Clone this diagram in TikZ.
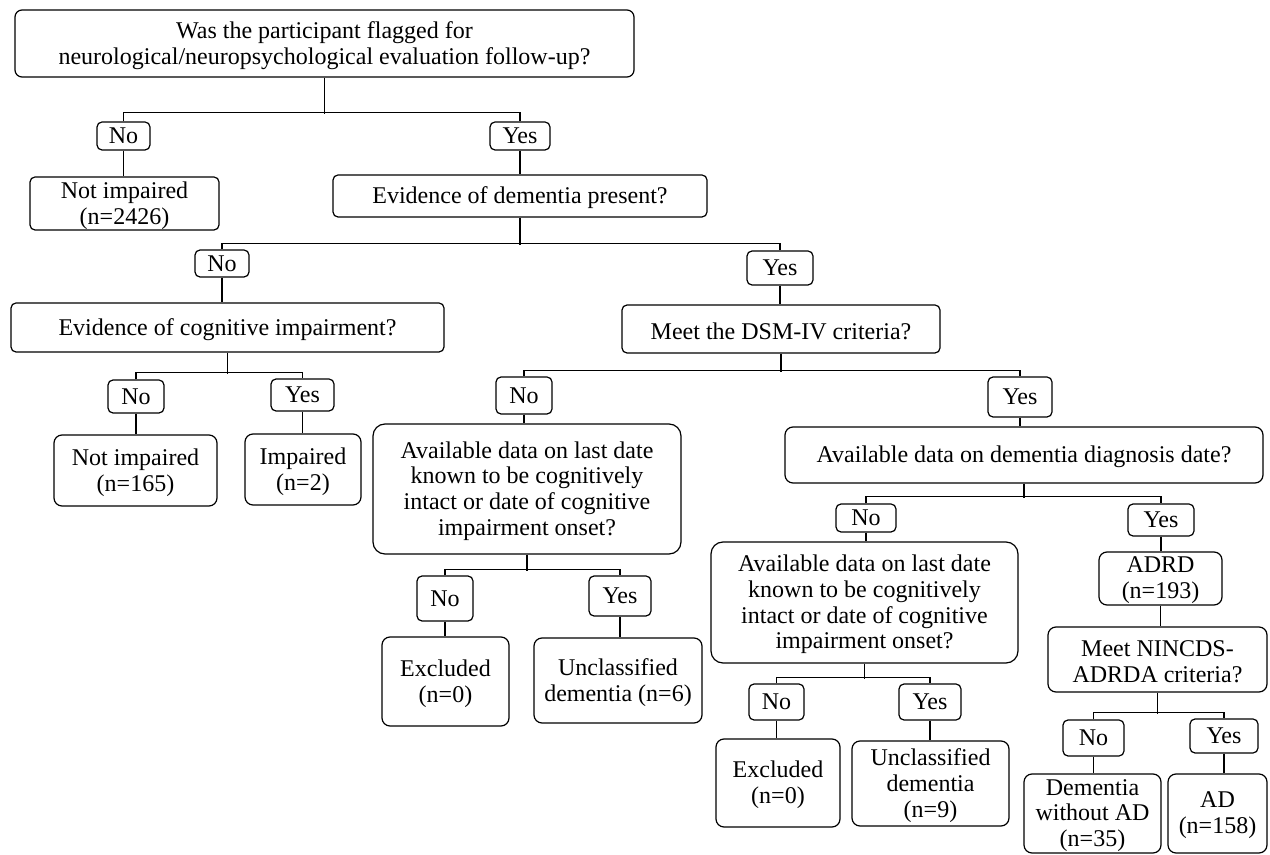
\documentclass[tikz,border=0pt]{standalone}
\usepackage{fontspec}
\setmainfont{Liberation Serif}
\usetikzlibrary{fit}
\newcommand\bx[5][]{\node[box,#1,fit={(#3) (#4)},label={[align=center,inner sep=0pt,yshift=-1pt]center:#5}] (#2) {};}
\newcommand\yn[4]{\node[box,fit={(#2) (#3)},label={[inner sep=0pt]center:#4}] (#1) {};}
\begin{document}
\begin{tikzpicture}[x=0.5pt,y=-0.5pt,
  font=\fontsize{12}{12.9}\selectfont,
  box/.style={draw, line width=0.6pt, rounded corners=2.5pt, inner sep=0pt},
  big/.style={rounded corners=6pt},
  mid/.style={rounded corners=4pt},
  cn/.style={line width=0.6pt},
  stem/.style={line width=0.8pt}]
\useasboundingbox (0,0) rectangle (1270,855);

% level 1
\bx[rounded corners=3.5pt]{top}{15,10}{634,77}{Was the participant flagged for\\neurological/neuropsychological evaluation follow-up?}
\yn{no1}{97,122}{150,150}{No}
\yn{yes1}{490,122}{550,150}{Yes}
\bx{ni1}{30,177}{219,230}{Not impaired\\(n=2426)}
\bx{evdem}{333,175}{707,217}{Evidence of dementia present?}

% level 2
\yn{no2}{195,250}{249,277}{No}
\yn{yes2}{747,251}{813,285}{Yes}
\bx{evcog}{11,303}{444,352}{Evidence of cognitive impairment?}
\bx{dsm}{622,305}{940,353}{Meet the DSM-IV criteria?}

% cognitive impairment branch
\yn{no3}{108,380}{164,413}{No}
\yn{yes3}{271,379}{334,411}{Yes}
\bx[mid]{ni2}{54,435}{217,506}{Not impaired\\(n=165)}
\bx[mid]{imp}{245,434}{361,505}{Impaired\\(n=2)}

% DSM branch
\yn{no4}{496,377}{552,414}{No}
\yn{yes4}{988,377}{1052,417}{Yes}
\bx[big]{av1}{373,424}{681,554}{Available data on last date\\known to be cognitively\\intact or date of cognitive\\impairment onset?}
\yn{no5}{417,576}{473,621}{No}
\yn{yes5}{589,576}{651,616}{Yes}
\bx[mid]{ex1}{382,637}{509,726}{Excluded\\(n=0)}
\bx[mid]{uc1}{534,638}{702,723}{Unclassified\\dementia (n=6)}

% diagnosis date branch
\bx[mid]{diag}{785,427}{1263,483}{Available data on dementia diagnosis date?}
\yn{no6}{836,504}{896,532}{No}
\yn{yes6}{1128,504}{1194,536}{Yes}
\bx[big]{av2}{711,542}{1018,663}{Available data on last date\\known to be cognitively\\intact or date of cognitive\\impairment onset?}
\yn{no7}{749,684}{804,720}{No}
\yn{yes7}{899,684}{961,720}{Yes}
\bx[mid]{ex2}{716,739}{840,827}{Excluded\\(n=0)}
\bx[mid]{uc2}{852,741}{1009,826}{Unclassified\\dementia\\(n=9)}

\bx[mid]{adrd}{1099,552}{1222,605}{ADRD\\(n=193)}
\bx[mid]{nincds}{1048,627}{1267,692}{Meet NINCDS-\\ADRDA criteria?}
\yn{no8}{1063,720}{1124,756}{No}
\yn{yes8}{1190,719}{1258,753}{Yes}
\bx[mid]{dwad}{1024,774}{1161,853}{Dementia\\without AD\\(n=35)}
\bx[mid]{ad}{1168,774}{1267,853}{AD\\(n=158)}

% connectors
\draw[stem] (top.south) -- ++(0,36);
\draw[cn] (no1.north) -- ++(0,-9) -| (yes1.north);
\draw[cn] (no1.south) -- (no1.south |- ni1.north);
\draw[stem] (yes1.south) -- (yes1.south |- evdem.north);

\draw[stem] (evdem.south) -- ++(0,27);
\draw[cn] (no2.north) -- ++(0,-6) -| (yes2.north);
\draw[cn] (no2.south) -- (no2.south |- evcog.north);
\draw[stem] (yes2.south) -- (yes2.south |- dsm.north);

\draw[stem] (evcog.south) -- ++(0,21);
\draw[cn] (no3.north) -- ++(0,-7) -| (yes3.north);
\draw[cn] (no3.south) -- (no3.south |- ni2.north);
\draw[cn] (yes3.south) -- (yes3.south |- imp.north);

\draw[stem] (dsm.south) -- ++(0,18);
\draw[cn] (no4.north) -- ++(0,-6) -| (yes4.north);
\draw[cn] (no4.south) -- (no4.south |- av1.north);
\draw[cn] (yes4.south) -- (yes4.south |- diag.north);

\draw[stem] (av1.south) -- ++(0,16);
\draw[cn] (no5.north) -- ++(0,-6) -| (yes5.north);
\draw[cn] (no5.south) -- (no5.south |- ex1.north);
\draw[cn] (yes5.south) -- (yes5.south |- uc1.north);

\draw[stem] (diag.south) -- ++(0,14);
\draw[cn] (no6.north) -- ++(0,-7) -| (yes6.north);
\draw[cn] (no6.south) -- (no6.south |- av2.north);
\draw[cn] (yes6.south) -- (yes6.south |- adrd.north);

\draw[stem] (av2.south) -- ++(0,15);
\draw[cn] (no7.north) -- ++(0,-6) -| (yes7.north);
\draw[cn] (no7.south) -- (no7.south |- ex2.north);
\draw[cn] (yes7.south) -- (yes7.south |- uc2.north);

\draw[cn] (adrd.south) -- (adrd.south |- nincds.north);
\draw[stem] (nincds.south) -- ++(0,21);
\draw[cn] (no8.north) -- ++(0,-7) -| (yes8.north);
\draw[cn] (no8.south) -- (no8.south |- dwad.north);
\draw[cn] (yes8.south) -- (yes8.south |- ad.north);
\end{tikzpicture}
\end{document}
